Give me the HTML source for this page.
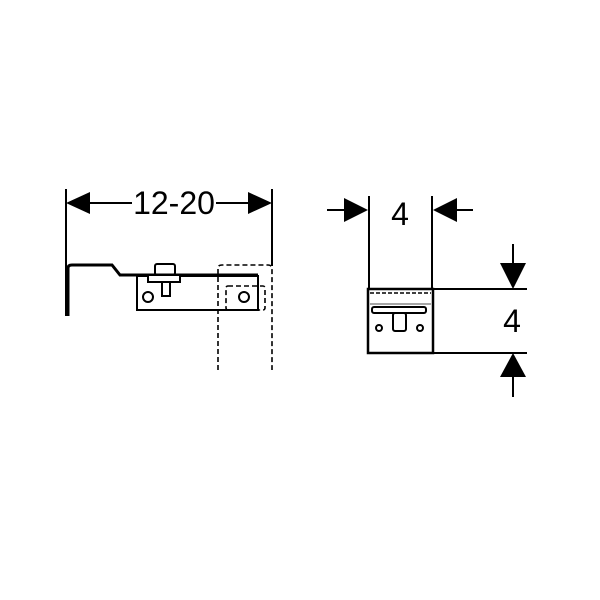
<!DOCTYPE html>
<html><head><meta charset="utf-8"><style>body{margin:0;background:#fff}svg{display:block}</style></head>
<body>
<svg width="600" height="600" viewBox="0 0 600 600" xmlns="http://www.w3.org/2000/svg">
<rect width="600" height="600" fill="#fff"/>
<g stroke="#000" fill="none" stroke-width="2">
  <line x1="66" y1="189" x2="66" y2="316"/>
  <line x1="272" y1="189" x2="272" y2="266"/>
  <line x1="88" y1="203" x2="132" y2="203"/>
  <line x1="216" y1="203" x2="250" y2="203"/>
  <path d="M68 316 V268 Q68 265 72 265 H112 L120 275 H258" stroke-width="3"/>
  <rect x="137" y="276" width="121" height="34"/>
  <rect x="155" y="264" width="20" height="11" rx="2"/>
  <rect x="148" y="275" width="32" height="7" fill="#fff"/>
  <rect x="162" y="282" width="8" height="14"/>
  <circle cx="148" cy="297" r="5"/>
  <circle cx="244" cy="297" r="5"/>
  <g stroke-dasharray="5,3" stroke-width="1.6">
    <path d="M218 370 V268 Q218 265 222 265 H268 Q272 265 272 269 V370"/>
    <rect x="226" y="286" width="39" height="24" rx="2"/>
  </g>
  <line x1="369" y1="196" x2="369" y2="289"/>
  <line x1="432" y1="196" x2="432" y2="289"/>
  <line x1="327" y1="210" x2="346" y2="210"/>
  <line x1="455" y1="210" x2="473" y2="210"/>
  <line x1="433" y1="289" x2="527" y2="289"/>
  <line x1="433" y1="353" x2="527" y2="353"/>
  <line x1="513" y1="244" x2="513" y2="264"/>
  <line x1="513" y1="376" x2="513" y2="397"/>
  <rect x="368" y="289" width="65" height="64" stroke-width="2.5"/>
  <line x1="370" y1="293" x2="431" y2="293" stroke-dasharray="4,2" stroke-width="1.5"/>
  <line x1="370" y1="304" x2="431" y2="304" stroke="#888" stroke-width="1.5"/>
  <rect x="372" y="307" width="54" height="6" rx="2"/>
  <rect x="393" y="313" width="13" height="18" rx="2"/>
  <circle cx="379" cy="328" r="3"/>
  <circle cx="420" cy="328" r="3"/>
</g>
<g fill="#000">
  <polygon points="66,203 90,192 90,214"/>
  <polygon points="272,203 248,192 248,214"/>
  <polygon points="368,210 344,198 344,222"/>
  <polygon points="433,210 457,198 457,222"/>
  <polygon points="513,289 500,263 526,263"/>
  <polygon points="513,353 500,377 526,377"/>
</g>
<g font-family="Liberation Sans, sans-serif" font-size="32" fill="#000" text-anchor="middle">
  <text x="174" y="214">12-20</text>
  <text x="400" y="225">4</text>
  <text x="512" y="332">4</text>
</g>
</svg>
</body></html>
